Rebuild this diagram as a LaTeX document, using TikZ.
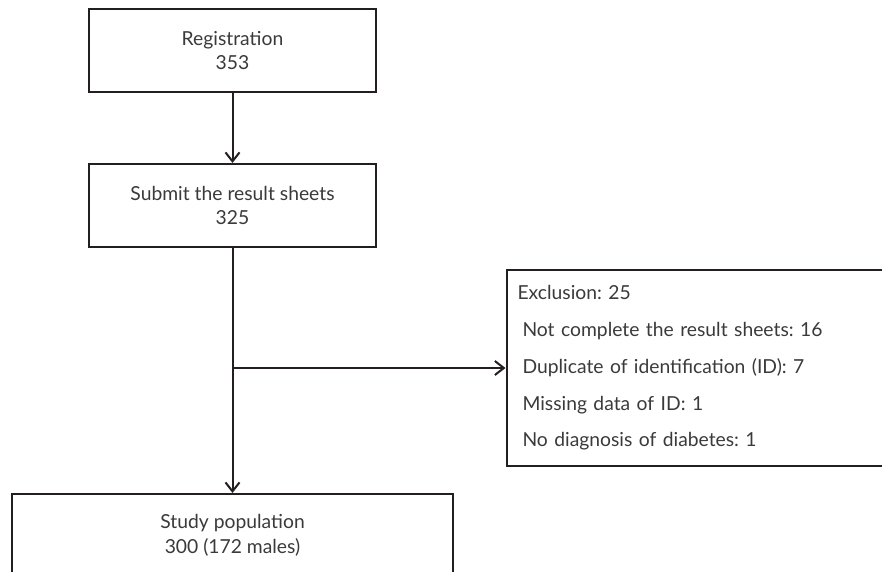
\documentclass[tikz,border=0pt]{standalone}
\usepackage{fontspec}
\setmainfont{Lato}
\frenchspacing
\usetikzlibrary{arrows.meta,positioning}
\definecolor{linegray}{HTML}{231F20}
\definecolor{textgray}{HTML}{3A3A3A}

\begin{document}
\begin{tikzpicture}[
    x=1pt, y=-1pt,
    box/.style={draw=linegray, line width=2pt, minimum width=287pt, minimum height=83pt, align=center, text=textgray},
    arrow/.style={-{Straight Barb[length=9pt,width=14pt]}, draw=linegray, line width=2pt},
    every node/.style={font=\fontsize{19.3}{24.5}\selectfont}
]
\useasboundingbox (0,0) rectangle (882,571);
\clip (0,0) rectangle (882,571);

% Registration
\node[box] (reg) at (232.5,50.5) {Registration\\353};

% Result sheets
\node[box, below=70pt of reg] (submit) {Submit the result sheets\\325};

% Study population
\node[box, minimum width=441pt, below=245pt of submit] (study) {Study population\\300 (172 males)};

% Exclusion
\coordinate[below=120pt of submit.south] (split);
\node[box, right=273pt of split, minimum height=196pt, text width=390pt, inner xsep=11pt, align=left, font=\fontsize{19.3}{36.7}\selectfont] (excl) {
    Exclusion: 25\\
    \hspace*{5pt}Not complete the result sheets: 16\\
    \hspace*{5pt}Duplicate of identification (ID): 7\\
    \hspace*{5pt}Missing data of ID: 1\\
    \hspace*{5pt}No diagnosis of diabetes: 1
};

% Arrows
\draw[arrow] (reg) -- (submit);
\draw[arrow] (submit) -- (study);
\draw[arrow] (split) -- (excl);

\end{tikzpicture}
\end{document}
